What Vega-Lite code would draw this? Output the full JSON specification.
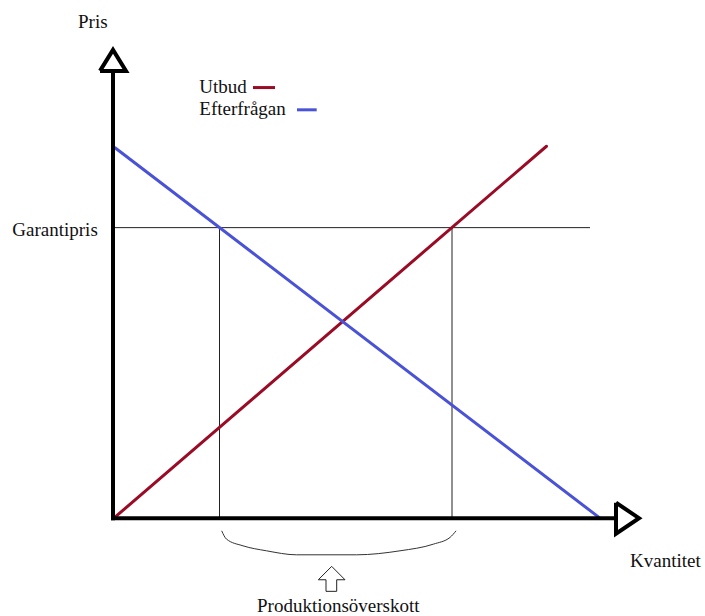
{
  "$schema": "https://vega.github.io/schema/vega-lite/v6.json",
  "width": 705,
  "height": 616,
  "padding": 0,
  "autosize": {"type": "fit", "contains": "padding"},
  "background": "white",
  "config": {"view": {"stroke": null}},
  "datasets": {
    "axes": [
      {"id": "yaxis", "k": 1, "q": 0, "p": -0.4},
      {"id": "yaxis", "k": 2, "q": 0, "p": 89.6},
      {"id": "ytri", "k": 1, "q": -2.6, "p": 89.6},
      {"id": "ytri", "k": 2, "q": 0, "p": 93.8},
      {"id": "ytri", "k": 3, "q": 2.6, "p": 89.6},
      {"id": "ytri", "k": 4, "q": -2.6, "p": 89.6},
      {"id": "xaxis", "k": 1, "q": -0.4, "p": 0},
      {"id": "xaxis", "k": 2, "q": 100.6, "p": 0},
      {"id": "xtri", "k": 1, "q": 100.6, "p": 3.1},
      {"id": "xtri", "k": 2, "q": 105.2, "p": 0},
      {"id": "xtri", "k": 3, "q": 100.6, "p": -3.1},
      {"id": "xtri", "k": 4, "q": 100.6, "p": 3.1}
    ],
    "guides": [
      {"id": "garanti", "k": 1, "q": 0, "p": 58.2},
      {"id": "garanti", "k": 2, "q": 95.4, "p": 58.2},
      {"id": "v1", "k": 1, "q": 21.3, "p": 0},
      {"id": "v1", "k": 2, "q": 21.3, "p": 58.2},
      {"id": "v2", "k": 1, "q": 67.8, "p": 0},
      {"id": "v2", "k": 2, "q": 67.8, "p": 58.2},
      {"id": "arrow", "k": 1, "q": 43.74, "p": -9.66},
      {"id": "arrow", "k": 2, "q": 46.4, "p": -12.34},
      {"id": "arrow", "k": 3, "q": 44.74, "p": -12.34},
      {"id": "arrow", "k": 4, "q": 44.74, "p": -14.66},
      {"id": "arrow", "k": 5, "q": 42.6, "p": -14.66},
      {"id": "arrow", "k": 6, "q": 42.6, "p": -12.34},
      {"id": "arrow", "k": 7, "q": 41.06, "p": -12.34},
      {"id": "arrow", "k": 8, "q": 43.74, "p": -9.66}
    ],
    "brace": [
      {"k": 1, "q": 21.74, "p": -2.54},
      {"k": 2, "q": 22.7, "p": -4.2},
      {"k": 3, "q": 26.0, "p": -5.54},
      {"k": 4, "q": 30.7, "p": -6.54},
      {"k": 5, "q": 36.7, "p": -7.34},
      {"k": 6, "q": 48.7, "p": -7.34},
      {"k": 7, "q": 57.4, "p": -6.54},
      {"k": 8, "q": 64.1, "p": -5.2},
      {"k": 9, "q": 67.4, "p": -3.86},
      {"k": 10, "q": 68.6, "p": -2.54}
    ],
    "curves": [
      {"serie": "Utbud", "k": 1, "q": 0.4, "p": 0.2},
      {"serie": "Utbud", "k": 2, "q": 86.7, "p": 74.5},
      {"serie": "Efterfrågan", "k": 1, "q": 0.4, "p": 74.2},
      {"serie": "Efterfrågan", "k": 2, "q": 97.4, "p": 0},
      {"serie": "Utbud", "k": 3, "q": 28.0, "p": 86.26, "leg": true},
      {"serie": "Utbud", "k": 4, "q": 32.4, "p": 86.26, "leg": true},
      {"serie": "Efterfrågan", "k": 3, "q": 36.8, "p": 81.8, "leg": true},
      {"serie": "Efterfrågan", "k": 4, "q": 40.74, "p": 81.8, "leg": true}
    ],
    "leftlabels": [
      {"label": "Utbud", "q": 17.26, "p": 85.1},
      {"label": "Efterfrågan", "q": 17.26, "p": 80.8},
      {"label": "Garantipris", "q": -20.14, "p": 56.6},
      {"label": "Kvantitet", "q": 103.4, "p": -9.86}
    ],
    "centerlabels": [
      {"label": "Pris", "q": -4.04, "p": 98.14},
      {"label": "Produktionsöverskott", "q": 45.06, "p": -18.74}
    ]
  },
  "encoding": {
    "x": {"field": "q", "type": "quantitative", "axis": null, "scale": {"domain": [-22.6, 118.4], "nice": false, "zero": false}},
    "y": {"field": "p", "type": "quantitative", "axis": null, "scale": {"domain": [-19.4, 103.8], "nice": false, "zero": false}}
  },
  "layer": [
    {
      "data": {"name": "guides"},
      "mark": {"type": "line", "color": "#222222", "strokeWidth": 1, "strokeJoin": "miter"},
      "encoding": {"detail": {"field": "id"}, "order": {"field": "k"}}
    },
    {
      "data": {"name": "brace"},
      "mark": {"type": "line", "color": "#333333", "strokeWidth": 1, "interpolate": "monotone"},
      "encoding": {"order": {"field": "k"}}
    },
    {
      "data": {"name": "curves"},
      "transform": [{"filter": "!datum.leg"}],
      "mark": {"type": "line", "strokeWidth": 3, "strokeCap": "round"},
      "encoding": {
        "detail": {"field": "serie"},
        "order": {"field": "k"},
        "color": {"field": "serie", "type": "nominal", "legend": null, "scale": {"domain": ["Utbud", "Efterfrågan"], "range": ["#9a0b25", "#4a52d6"]}}
      }
    },
    {
      "data": {"name": "curves"},
      "transform": [{"filter": "datum.leg"}],
      "mark": {"type": "line", "strokeWidth": 3},
      "encoding": {
        "detail": {"field": "serie"},
        "order": {"field": "k"},
        "color": {"field": "serie", "type": "nominal", "legend": null, "scale": {"domain": ["Utbud", "Efterfrågan"], "range": ["#9a0b25", "#4a52d6"]}}
      }
    },
    {
      "data": {"name": "axes"},
      "mark": {"type": "line", "color": "black", "strokeWidth": 4, "strokeJoin": "miter"},
      "encoding": {"detail": {"field": "id"}, "order": {"field": "k"}}
    },
    {
      "data": {"name": "leftlabels"},
      "mark": {"type": "text", "align": "left", "baseline": "alphabetic", "font": "Liberation Serif", "fontSize": 19, "color": "#111111"},
      "encoding": {"text": {"field": "label"}}
    },
    {
      "data": {"name": "centerlabels"},
      "mark": {"type": "text", "align": "center", "baseline": "alphabetic", "font": "Liberation Serif", "fontSize": 19, "color": "#111111"},
      "encoding": {"text": {"field": "label"}}
    }
  ]
}
